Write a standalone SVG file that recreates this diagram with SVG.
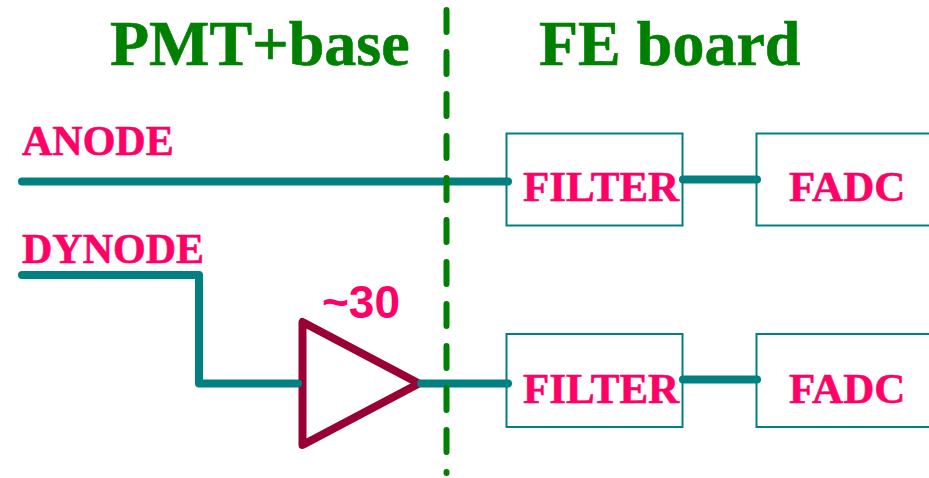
<svg xmlns="http://www.w3.org/2000/svg" width="929" height="478" viewBox="0 0 929 478">
<style>
.t{font-family:"Liberation Serif",serif;font-weight:bold}
.h{font-size:64px;fill:#008000;stroke:#008000;stroke-width:.6px}
.l{font-size:42px;fill:#ff0066;stroke:#ff0066;stroke-width:.6px}
.m{font-size:43px;fill:#ff0066;stroke:#ff0066;stroke-width:.6px}
.w{fill:none;stroke:#008080;stroke-width:8;stroke-linecap:round;stroke-linejoin:round}
.b{fill:#fff;stroke:#008080;stroke-width:2}
</style>
<rect width="929" height="478" fill="#fff"/>
<text class="t h" x="110" y="65">PMT+base</text>
<text class="t h" x="539" y="65">FE board</text>
<text class="t l" x="22" y="155">ANODE</text>
<text class="t l" x="22" y="263">DYNODE</text>
<g id="filter1"><rect class="b" x="506.500" y="133.500" width="176" height="92"/><text class="t m" x="523" y="201">FILTER</text></g>
<g id="fadc1"><rect class="b" x="756.500" y="133.500" width="180" height="92"/><text class="t m" x="789" y="201">FADC</text></g>
<g id="filter2"><rect class="b" x="506.500" y="334" width="176" height="93"/><text class="t m" x="523" y="403">FILTER</text></g>
<g id="fadc2"><rect class="b" x="756.500" y="334" width="180" height="93"/><text class="t m" x="789" y="403">FADC</text></g>
<g id="amp"><path d="M302.500 322V445L419 383.500Z" fill="none" stroke="#990033" stroke-width="8" stroke-linejoin="round"/>
<text x="322" y="318" font-family="Liberation Sans, sans-serif" font-weight="bold" font-size="46" fill="#ff0066">~30</text></g>
<g id="connectors">
<path class="w" d="M22 181.500H508"/>
<path class="w" d="M683 179.500H757"/>
<path class="w" d="M22 275H199V383.500H298"/>
<path class="w" d="M421 383.500H508"/>
<path class="w" d="M683 379.500H757"/>
<path d="M446.500 10V473" fill="none" stroke="#008000" stroke-width="6" stroke-linecap="round" stroke-dasharray="22 20"/>
</g>
</svg>
